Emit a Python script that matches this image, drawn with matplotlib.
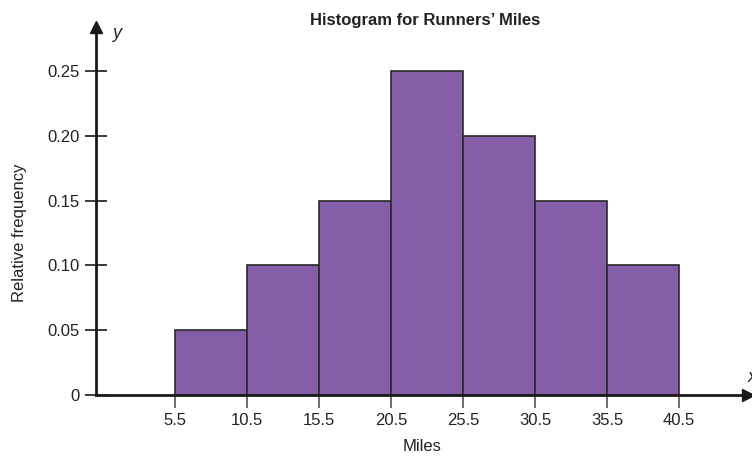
import matplotlib
matplotlib.use("Agg")
import matplotlib.pyplot as plt
from matplotlib import font_manager

names = {f.name for f in font_manager.fontManager.ttflist}
fam = "Liberation Sans Narrow" if "Liberation Sans Narrow" in names else "Liberation Sans"
plt.rcParams["font.family"] = [fam, "DejaVu Sans"]

# Data
bin_edges = [5.5, 10.5, 15.5, 20.5, 25.5, 30.5, 35.5, 40.5]
rel_freq = [0.05, 0.10, 0.15, 0.25, 0.20, 0.15, 0.10]
y_ticks = [0, 0.05, 0.10, 0.15, 0.20, 0.25]
y_tick_labels = ["0", "0.05", "0.10", "0.15", "0.20", "0.25"]

W, H = 752, 458
fig = plt.figure(figsize=(W / 100, H / 100), dpi=100)
ax = fig.add_axes([96 / W, 63 / H, (748 - 96) / W, (431 - 63) / H])

lefts = bin_edges[:-1]
widths = [b - a for a, b in zip(bin_edges[:-1], bin_edges[1:])]
ax.bar(lefts, rel_freq, width=widths, align="edge", color="#845EA8",
       edgecolor="#2a2a2a", linewidth=1.2, zorder=2)

ax.set_xlim(0, 45.3)
ax.set_ylim(0, 0.284)
ax.set_xticks(bin_edges)
ax.set_xticklabels([str(b) for b in bin_edges])
ax.set_yticks(y_ticks)
ax.set_yticklabels(y_tick_labels)

for s in ["top", "right"]:
    ax.spines[s].set_visible(False)
for s in ["left", "bottom"]:
    ax.spines[s].set_linewidth(2)
    ax.spines[s].set_color("#1a1a1a")
    ax.spines[s].set_zorder(3)

ax.tick_params(axis="y", direction="inout", length=16, width=1.2, colors="#1a1a1a",
               labelsize=12, pad=4, labelcolor="#222222")
ax.tick_params(axis="x", direction="out", length=9, width=1.2, colors="#555555",
               labelsize=12, pad=4, labelcolor="#222222")

# arrows
ax.plot(1, 0, ">", transform=ax.transAxes, clip_on=False, color="#1a1a1a",
        markersize=9, zorder=4)
ax.plot(0, 1, "^", transform=ax.transAxes, clip_on=False, color="#1a1a1a",
        markersize=9, zorder=4)

fig.text(112 / W, 1 - 34 / H, "y", fontsize=13, style="italic", color="#222222",
         ha="left", va="center")
fig.text(748 / W, 1 - 378 / H, "x", fontsize=13, style="italic", color="#222222",
         ha="left", va="center")

fig.text(425 / W, 1 - 20 / H, "Histogram for Runners\u2019 Miles", fontsize=12,
         fontweight="bold", ha="center", va="center", color="#222222")
ax.set_xlabel("Miles", fontsize=12, color="#222222", labelpad=8)
fig.text(20 / W, 1 - 233 / H, "Relative frequency", fontsize=12, rotation=90,
         ha="center", va="center", color="#222222")

fig.savefig("out.png", dpi=100)
